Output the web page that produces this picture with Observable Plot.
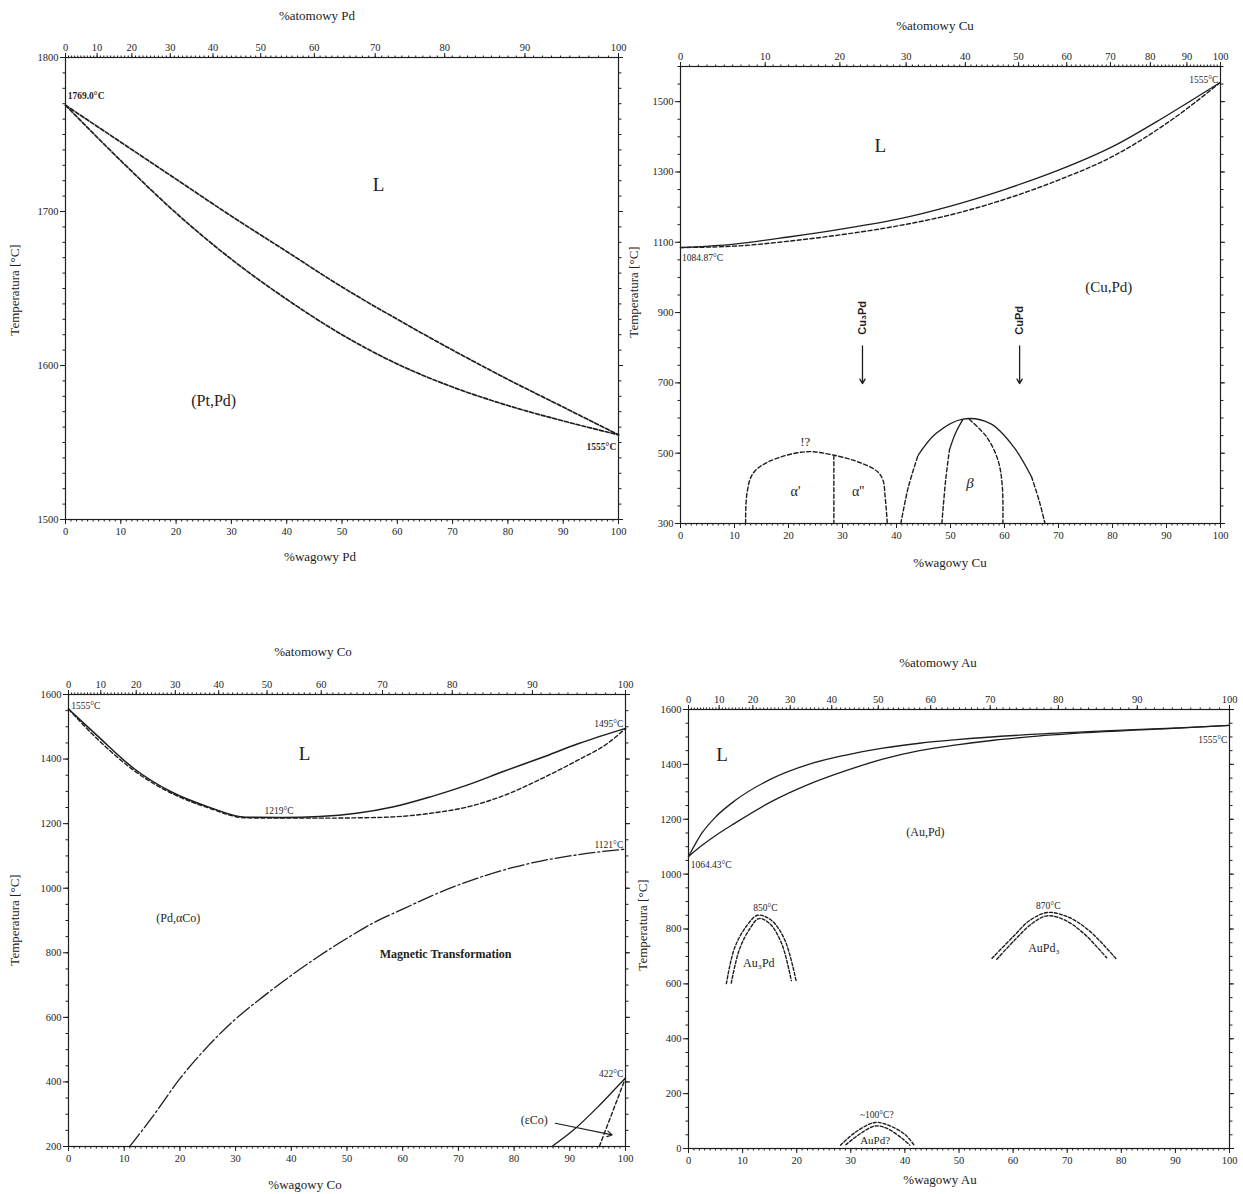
<!DOCTYPE html>
<html><head><meta charset="utf-8">
<script src="https://cdn.jsdelivr.net/npm/d3@7"></script>
<script src="https://cdn.jsdelivr.net/npm/@observablehq/plot@0.6"></script>
<style>
body{margin:0;background:#fff;}
#root{position:relative;width:1243px;height:1194px;background:#fff;font-family:"Liberation Serif",serif;color:#222;overflow:hidden}
.t{position:absolute;transform:translate(-50%,-50%);font-size:13px;white-space:nowrap}
.yl{position:absolute;transform:translate(-50%,-50%) rotate(-90deg);font-size:13px;white-space:nowrap}
#root svg{position:absolute}
</style></head><body><div id="root"></div>
<script>
// ---------- shared axis values ----------
const bottomMajor = [0,10,20,30,40,50,60,70,80,90,100];
const bottomMinor = d3.range(0,101,1);
const topAtLabels = [0,10,20,30,40,50,60,70,80,90,100];
const topAtMinor = d3.range(0,101,1);
// atomic masses used to place the atomic-% (top) axis on the weight-% scale
const mass = {Pd:106.42, Pt:195.08, Cu:63.546, Co:58.933, Au:196.97};
const wtFromAt = (at, mX, mO) => 100*at*mX/(at*mX + (100-at)*mO);

// ---------- Panel 1: Pt–Pd ----------
const p1Y = [1500,1600,1700,1800];
const p1YMinor = d3.range(1500,1801,10);
const p1Wt = [0,10,20,30,40,50,60,70,80,90,100];
const p1Liquidus = [1769,1745,1721,1697,1674,1651,1630,1610,1591,1573,1555];
const p1Solidus  = [1769,1733,1699,1669,1643,1620,1601,1586,1574,1564,1555];
const p1Notes = [
  {text:"1769.0°C", x:0.4, y:1775},
  {text:"1555°C", x:99.6, y:1547},
  {text:"L", x:56.6, y:1717},
  {text:"(Pt,Pd)", x:26.8, y:1577}
];

// ---------- Panel 2: Cu–Pd ----------
const p2Y = [300,500,700,900,1100,1300,1500];
const p2YMinor = d3.range(300,1601,50);
const p2Wt = [0,10,20,30,40,50,60,70,80,90,100];
const p2Liquidus = [1085,1095,1115,1138,1165,1203,1250,1305,1372,1460,1555];
const p2Solidus  = [1085,1089,1103,1122,1146,1178,1222,1277,1344,1438,1555];
const p2AlphaWt = [12.06,12.3,13.4,16.2,23.1,28.5,33.6,36.5,37.5,37.9,38.3];
const p2AlphaT  = [300,385,442,475,504,494,471,447,423,376,300];
const p2DividerWt = [28.4,28.4];
const p2DividerT  = [494,300];
const p2BetaOuterDashLWt = [40.8,42.2,44.0];
const p2BetaOuterDashLT  = [300,404,494];
const p2BetaOuterSolidWt = [44.0,47.3,52.3,57.4,61.7,65.0];
const p2BetaOuterSolidT  = [494,556,597,584,518,433];
const p2BetaOuterDashRWt = [65.0,66.4,67.5];
const p2BetaOuterDashRT  = [433,366,300];
const p2BetaInnerDashWt = [48.4,49.1,49.8];
const p2BetaInnerDashT  = [300,423,509];
const p2BetaInnerSolidWt = [49.8,50.9,52.3];
const p2BetaInnerSolidT  = [509,556,596];
const p2BetaInnerRWt = [53.5,56.7,58.8,59.6,59.7];
const p2BetaInnerRT  = [596,546,480,404,300];
const p2Arrows = [
  {label:"Cu₃Pd", x:33.7, yText:885, yFrom:805, yTo:698},
  {label:"CuPd", x:62.8, yText:878, yFrom:805, yTo:698}
];
const p2Notes = [
  {text:"1084.87°C", x:0.3, y:1055},
  {text:"1555°C", x:99.6, y:1562},
  {text:"L", x:37, y:1375},
  {text:"(Cu,Pd)", x:79.3, y:972},
  {text:"!?", x:23.1, y:532},
  {text:"α'", x:21.3, y:390},
  {text:"α''", x:32.9, y:390},
  {text:"β", x:53.6, y:414}
];

// ---------- Panel 3: Pd–Co ----------
const p3Y = [200,400,600,800,1000,1200,1400,1600];
const p3YMinor = d3.range(200,1601,50);
const p3LiqWt = [0,5.2,11.8,18.5,25.1,31.8,38.4,45.1,51.7,58.4,65,71.7,78.3,85,91.6,100];
const p3LiqT  = [1555,1472,1370,1298,1252,1220,1219,1222,1232,1252,1283,1320,1363,1405,1448,1495];
const p3SolWt = [0,5.2,11.8,18.5,25.1,31.8,38.4,45.1,51.7,58.4,65,71.7,78.3,85,91.6,96.9,100];
const p3SolT  = [1555,1462,1364,1294,1249,1218,1217,1217,1218,1221,1232,1252,1288,1340,1398,1450,1495];
const p3MagWt = [11,15,20,25,30,35,40,45,50,55,60,65,70,75,80,85,90,95,100];
const p3MagT  = [200,290,410,510,595,665,730,790,845,895,935,975,1010,1040,1065,1085,1100,1112,1121];
const p3EpsSolidWt = [86.8,90.6,95.0,97.9,100];
const p3EpsSolidT  = [200,250,322,374,412];
const p3EpsDashWt = [95.3,100];
const p3EpsDashT  = [200,412];
const p3EpsArrow = {x1:87.4, y1:272, x2:97.6, y2:236};
const p3Notes = [
  {text:"1555°C", x:0.5, y:1563},
  {text:"1495°C", x:99.6, y:1508},
  {text:"1219°C", x:37.8, y:1240},
  {text:"1121°C", x:99.6, y:1133},
  {text:"422°C", x:99.6, y:425},
  {text:"L", x:42.4, y:1416},
  {text:"(Pd,αCo)", x:19.7, y:906},
  {text:"Magnetic Transformation", x:67.7, y:795},
  {text:"(εCo)", x:83.6, y:281}
];

// ---------- Panel 4: Au–Pd ----------
const p4Y = [0,200,400,600,800,1000,1200,1400,1600];
const p4YMinor = d3.range(0,1601,50);
const p4LiqWt = [0,2.5,5.1,8.6,15.4,22.2,29.1,35.9,42.7,49.6,63.3,76.9,90.6,100];
const p4LiqT  = [1064,1150,1210,1268,1348,1400,1434,1459,1477,1490,1509,1522,1533,1542];
const p4SolWt = [0,2.5,5.1,8.6,15.4,22.2,29.1,35.9,42.7,49.6,56.4,63.3,76.9,90.6,100];
const p4SolT  = [1064,1105,1142,1186,1265,1327,1377,1419,1450,1471,1488,1501,1519,1532,1542];
const p4Au3PdOuterWt = [7.0,8.5,10.7,12.8,15.3,17.8,19.9];
const p4Au3PdOuterT  = [601,730,810,850,832,760,610];
const p4Au3PdInnerWt = [7.9,9.4,11.3,13.0,15.0,17.2,19.0];
const p4Au3PdInnerT  = [603,725,800,838,820,748,612];
const p4AuPd3OuterWt = [56.1,60,63,66.3,70,74,79.2];
const p4AuPd3OuterT  = [693,772,830,860,845,795,688];
const p4AuPd3InnerWt = [57.0,60.5,63.5,66.3,69.5,73,77.3];
const p4AuPd3InnerT  = [690,764,820,848,833,785,695];
const p4AuPdOuterWt = [28.1,30.9,34.5,37.3,40.2,41.7];
const p4AuPdOuterT  = [12,60,95,82,48,12];
const p4AuPdInnerWt = [29.1,31.6,34.5,36.6,39.4,40.9];
const p4AuPdInnerT  = [14,52,82,74,38,12];
const p4Notes = [
  {text:"1064.43°C", x:0.4, y:1032},
  {text:"1555°C", x:99.6, y:1490},
  {text:"L", x:6.2, y:1434},
  {text:"(Au,Pd)", x:43.8, y:1152},
  {text:"850°C", x:14.2, y:878},
  {text:"Au₃Pd", x:13.0, y:675},
  {text:"870°C", x:66.5, y:885},
  {text:"AuPd₃", x:65.7, y:730},
  {text:"~100°C?", x:34.8, y:122},
  {text:"AuPd?", x:34.5, y:30}
];

// ---------- helpers ----------
const INK = "#1e1e1e";
const pts = (xs, ys) => xs.map((x,i) => ({x, y: ys[i]}));
const line = (xs, ys, o={}) => Plot.line(pts(xs, ys), {x:"x", y:"y", curve:"catmull-rom", stroke:INK, strokeWidth:1.3, ...o});
const dashed = (xs, ys, o={}) => line(xs, ys, {strokeDasharray:"4,2.5", strokeWidth:1.4, ...o});
const note = (notes, text, o={}) => Plot.text(notes.filter(n => n.text === text), {x:"x", y:"y", text:"text", fill:INK, fontSize:10, ...o});

const root = document.getElementById("root");
function panel({frame:[fl,ft,fw,fh], yDomain, yMajor, yMinor, xEl, otherEl, marks}) {
  const ml=50, mr=14, mt=30, mb=24;
  const topWt = topAtLabels.map(a => wtFromAt(a, mass[xEl], mass[otherEl]));
  const topMap = new Map(topWt.map((w,i) => [w, topAtLabels[i]]));
  const topMinorWt = topAtMinor.map(a => wtFromAt(a, mass[xEl], mass[otherEl]));
  const svg = Plot.plot({
    width: fw+ml+mr, height: fh+mt+mb,
    marginLeft: ml, marginRight: mr, marginTop: mt, marginBottom: mb,
    x: {domain:[0,100], label:null},
    y: {domain:yDomain, label:null},
    style: {fontFamily:'"Liberation Serif", serif', fontSize:"10.5px", color:INK, background:"transparent", overflow:"visible"},
    marks: [
      Plot.axisX(bottomMinor, {anchor:"bottom", tickSize:2.5, fill:"none", label:null}),
      Plot.axisX(bottomMajor, {anchor:"bottom", tickSize:5, tickPadding:3, tickFormat: d => String(d), label:null}),
      Plot.axisX(topMinorWt, {anchor:"top", tickSize:2.5, fill:"none", label:null}),
      Plot.axisX(topWt, {anchor:"top", tickSize:5, tickPadding:2, tickFormat: d => String(topMap.get(d)), label:null}),
      Plot.axisY(yMinor, {anchor:"left", tickSize:2.5, fill:"none", label:null}),
      Plot.axisY(yMajor, {anchor:"left", tickSize:5, tickPadding:2, tickFormat: d => String(d), label:null}),
      Plot.axisY(yMinor, {anchor:"right", tickSize:2.5, fill:"none", label:null}),
      Plot.axisY(yMajor, {anchor:"right", tickSize:4, fill:"none", label:null}),
      Plot.frame({stroke:INK, strokeWidth:1.2}),
      ...marks
    ]
  });
  svg.style.left = (fl-ml)+"px";
  svg.style.top = (ft-mt)+"px";
  root.appendChild(svg);
}
function label(cls, text, x, y) {
  const d = document.createElement("div");
  d.className = cls; d.textContent = text;
  d.style.left = x+"px"; d.style.top = y+"px";
  root.appendChild(d);
}

// ---------- Panel 1 ----------
panel({frame:[65,57,553,462], yDomain:[1500,1800], yMajor:p1Y, yMinor:p1YMinor, xEl:"Pd", otherEl:"Pt", marks:[
  dashed(p1Wt, p1Liquidus, {curve:"monotone-x", strokeDasharray:"4,2", strokeWidth:1.7}),
  dashed(p1Wt, p1Solidus, {curve:"monotone-x", strokeDasharray:"4,2", strokeWidth:1.7}),
  note(p1Notes, "1769.0°C", {textAnchor:"start", fontWeight:"bold", fontSize:9.5}),
  note(p1Notes, "1555°C", {textAnchor:"end", fontWeight:"bold", fontSize:9.5}),
  note(p1Notes, "L", {fontSize:19}),
  note(p1Notes, "(Pt,Pd)", {fontSize:16})
]});
label("t", "%atomowy Pd", 317, 16);
label("t", "%wagowy Pd", 320, 557);
label("yl", "Temperatura [°C]", 15, 290);

// ---------- Panel 2 ----------
panel({frame:[680,66,540,457], yDomain:[300,1600], yMajor:p2Y, yMinor:p2YMinor, xEl:"Pd", otherEl:"Cu", marks:[
  line(p2Wt, p2Liquidus, {curve:"monotone-x"}),
  dashed(p2Wt, p2Solidus, {curve:"monotone-x"}),
  dashed(p2AlphaWt, p2AlphaT),
  dashed(p2DividerWt, p2DividerT, {curve:"linear"}),
  dashed(p2BetaOuterDashLWt, p2BetaOuterDashLT),
  line(p2BetaOuterSolidWt, p2BetaOuterSolidT),
  dashed(p2BetaOuterDashRWt, p2BetaOuterDashRT),
  dashed(p2BetaInnerDashWt, p2BetaInnerDashT),
  line(p2BetaInnerSolidWt, p2BetaInnerSolidT),
  dashed(p2BetaInnerRWt, p2BetaInnerRT),
  Plot.arrow(p2Arrows, {x1:"x", x2:"x", y1:"yFrom", y2:"yTo", stroke:INK, strokeWidth:1.3, headLength:6}),
  Plot.text(p2Arrows, {x:"x", y:"yText", text:"label", rotate:-90, fontSize:11, fill:INK, fontWeight:"bold", fontFamily:'"Liberation Sans", sans-serif'}),
  note(p2Notes, "1084.87°C", {textAnchor:"start", fontSize:9.5}),
  note(p2Notes, "1555°C", {textAnchor:"end", fontSize:9.5}),
  note(p2Notes, "L", {fontSize:19}),
  note(p2Notes, "(Cu,Pd)", {fontSize:15}),
  note(p2Notes, "!?", {fontSize:13}),
  note(p2Notes, "α'", {fontSize:14}),
  note(p2Notes, "α''", {fontSize:14}),
  note(p2Notes, "β", {fontSize:15, fontStyle:"italic"})
]});
label("t", "%atomowy Cu", 935, 26);
label("t", "%wagowy Cu", 950, 563);
label("yl", "Temperatura [°C]", 634, 292);

// ---------- Panel 3 ----------
panel({frame:[68,694,557,452], yDomain:[200,1600], yMajor:p3Y, yMinor:p3YMinor, xEl:"Co", otherEl:"Pd", marks:[
  line(p3LiqWt, p3LiqT, {curve:"monotone-x", strokeWidth:1.5}),
  dashed(p3SolWt, p3SolT, {curve:"monotone-x"}),
  line(p3MagWt, p3MagT, {curve:"monotone-x", strokeDasharray:"16,3,2,3", strokeWidth:1.3}),
  line(p3EpsSolidWt, p3EpsSolidT, {curve:"monotone-x"}),
  dashed(p3EpsDashWt, p3EpsDashT, {curve:"linear"}),
  Plot.arrow([p3EpsArrow], {x1:"x1", y1:"y1", x2:"x2", y2:"y2", stroke:INK, strokeWidth:1.2, headLength:7}),
  note(p3Notes, "1555°C", {textAnchor:"start", fontSize:9.5}),
  note(p3Notes, "1495°C", {textAnchor:"end", fontSize:9.5}),
  note(p3Notes, "1219°C", {fontSize:9.5}),
  note(p3Notes, "1121°C", {textAnchor:"end", fontSize:9.5}),
  note(p3Notes, "422°C", {textAnchor:"end", fontSize:9.5}),
  note(p3Notes, "L", {fontSize:19}),
  note(p3Notes, "(Pd,αCo)", {fontSize:12}),
  note(p3Notes, "Magnetic Transformation", {fontSize:12, fontWeight:"bold"}),
  note(p3Notes, "(εCo)", {fontSize:12})
]});
label("t", "%atomowy Co", 313, 652);
label("t", "%wagowy Co", 305, 1185);
label("yl", "Temperatura [°C]", 15, 920);

// ---------- Panel 4 ----------
panel({frame:[688,709,541,439], yDomain:[0,1600], yMajor:p4Y, yMinor:p4YMinor, xEl:"Pd", otherEl:"Au", marks:[
  line(p4LiqWt, p4LiqT, {curve:"monotone-x"}),
  line(p4SolWt, p4SolT, {curve:"monotone-x"}),
  dashed(p4Au3PdOuterWt, p4Au3PdOuterT, {strokeDasharray:"3,2"}),
  dashed(p4Au3PdInnerWt, p4Au3PdInnerT, {strokeDasharray:"3,2"}),
  dashed(p4AuPd3OuterWt, p4AuPd3OuterT, {strokeDasharray:"3,2"}),
  dashed(p4AuPd3InnerWt, p4AuPd3InnerT, {strokeDasharray:"3,2"}),
  dashed(p4AuPdOuterWt, p4AuPdOuterT, {strokeDasharray:"3,2"}),
  dashed(p4AuPdInnerWt, p4AuPdInnerT, {strokeDasharray:"3,2"}),
  note(p4Notes, "1064.43°C", {textAnchor:"start", fontSize:9.5}),
  note(p4Notes, "1555°C", {textAnchor:"end", fontSize:9.5}),
  note(p4Notes, "L", {fontSize:19}),
  note(p4Notes, "(Au,Pd)", {fontSize:12}),
  note(p4Notes, "850°C", {fontSize:9.5}),
  note(p4Notes, "870°C", {fontSize:9.5}),
  note(p4Notes, "Au₃Pd", {fontSize:12}),
  note(p4Notes, "AuPd₃", {fontSize:12}),
  note(p4Notes, "~100°C?", {fontSize:9.5}),
  note(p4Notes, "AuPd?", {fontSize:11})
]});
label("t", "%atomowy Au", 938, 663);
label("t", "%wagowy Au", 940, 1180);
label("yl", "Temperatura [°C]", 643, 925);
</script>
</body></html>
